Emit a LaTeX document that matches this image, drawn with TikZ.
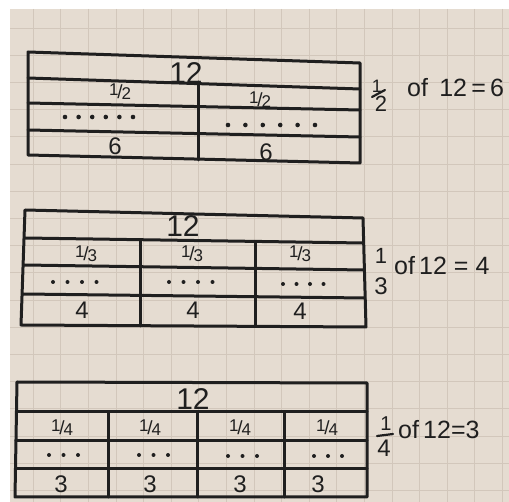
\documentclass[tikz,border=0pt]{standalone}
\usepackage{fontspec}
\setmainfont{Liberation Sans}
\newcommand{\hfr}[2]{\raisebox{0.3em}{\fontsize{17}{17}\selectfont #1}\kern-0.12em{\fontsize{19}{19}\selectfont/}\kern-0.1em\raisebox{-0.1em}{\fontsize{17}{17}\selectfont #2}}
\begin{document}
\begin{tikzpicture}[x=1pt,y=-1pt,
  ink/.style={draw=black!88,line width=3pt,line cap=round,line join=round},
  thin/.style={draw=black!88,line width=2.2pt,line cap=round},
  lbl/.style={inner sep=0pt,text=black!88,font=\fontsize{24}{24}\selectfont},
  big/.style={inner sep=0pt,text=black!88,font=\fontsize{30}{30}\selectfont},
  frc/.style={inner sep=0pt,text=black!88},
  side/.style={inner sep=0pt,text=black!88,font=\fontsize{25}{25}\selectfont,anchor=west},
  dotm/.style={fill=black!88}]
\useasboundingbox (0,0) rectangle (509,502);
\fill[white] (0,0) rectangle (509,502);
\fill[fill={rgb,255:red,229;green,220;blue,209}] (10,9) rectangle (509,502);
\begin{scope}
\clip (10,9) rectangle (509,502);
\foreach \i in {0,...,18} {\draw[line width=0.6pt,draw={rgb,255:red,210;green,199;blue,187}] (33+27.6*\i,9) -- (33+27.6*\i,502);}
\foreach \j in {0,...,17} {\draw[line width=0.6pt,draw={rgb,255:red,210;green,199;blue,187}] (10,28+27.2*\j) -- (509,28+27.2*\j);}
\end{scope}
% ---------- Table 1 ----------
\draw[ink] (28,52) -- (360,63) -- (360,163) -- (28,155) -- cycle;
\draw[ink] (28,78) -- (360,89);
\draw[ink] (28,103) -- (360,110);
\draw[ink] (28,130) -- (360,137);
\draw[ink] (198,82) -- (198,160);
\node[big] (a12) at (186,73) {12};
\node[frc] (ah1) at (120,92) {\hfr{1}{2}};
\node[frc] (ah2) at (260,100) {\hfr{1}{2}};
\foreach \k in {0,...,5} {\fill[dotm] (65+13.6*\k,117) circle (2.3);}
\foreach \k in {0,...,5} {\fill[dotm] (228+17.4*\k,125) circle (2.3);}
\node[lbl] (a6a) at (115,146) {6};
\node[lbl] (a6b) at (266,152) {6};
\node[frc,font=\fontsize{18}{18}\selectfont] (afn) at (377,86) {1};
\draw[thin] (372,97) -- (385,90);
\node[frc,font=\fontsize{22}{22}\selectfont] (afd) at (381,104) {2};
\node[side] (at) at (407,88) {of\hspace{0.45em}12\,=\,6};
% ---------- Table 2 ----------
\draw[ink] (25,210) -- (363,218) -- (366,327) -- (21,325) -- cycle;
\draw[ink] (25,238) -- (363,243);
\draw[ink] (24,265) -- (364,270);
\draw[ink] (23,294) -- (365,298);
\draw[ink] (140,240) -- (140,326);
\draw[ink] (255,242) -- (255,326);
\node[big] (b12) at (183,226) {12};
\node[frc] (bt1) at (86,254) {\hfr{1}{3}};
\node[frc] (bt2) at (192,254) {\hfr{1}{3}};
\node[frc] (bt3) at (300,254) {\hfr{1}{3}};
\foreach \k in {0,...,3} {\fill[dotm] (53+14.5*\k,282) circle (2);}
\foreach \k in {0,...,3} {\fill[dotm] (169+14.5*\k,282) circle (2);}
\foreach \k in {0,...,3} {\fill[dotm] (283+13.5*\k,284) circle (2);}
\node[lbl] (b4a) at (82,310) {4};
\node[lbl] (b4b) at (193,310) {4};
\node[lbl] (b4c) at (300,311) {4};
\node[frc,font=\fontsize{22}{22}\selectfont] (bfn) at (381,256) {1};
\node[frc,font=\fontsize{24}{24}\selectfont] (bfd) at (381,286) {3};
\node[side] (bt) at (394,266) {of\,12 = 4};
% ---------- Table 3 ----------
\draw[ink] (17,382) -- (367,383) -- (367,497) -- (15,497) -- cycle;
\draw[ink] (17,412) -- (367,412);
\draw[ink] (16,441) -- (367,441);
\draw[ink] (16,469) -- (367,469);
\draw[ink] (108,412) -- (108,497);
\draw[ink] (197,412) -- (197,497);
\draw[ink] (284,412) -- (284,497);
\node[big] (c12) at (193,399) {12};
\node[frc] (cq1) at (62,428) {\hfr{1}{4}};
\node[frc] (cq2) at (150,428) {\hfr{1}{4}};
\node[frc] (cq3) at (240,428) {\hfr{1}{4}};
\node[frc] (cq4) at (327,428) {\hfr{1}{4}};
\foreach \k in {0,...,2} {\fill[dotm] (49+14.5*\k,455) circle (2);}
\foreach \k in {0,...,2} {\fill[dotm] (139+14.5*\k,455) circle (2);}
\foreach \k in {0,...,2} {\fill[dotm] (228+14.5*\k,456) circle (2);}
\foreach \k in {0,...,2} {\fill[dotm] (314+14*\k,456) circle (2);}
\node[lbl] (c3a) at (61,484) {3};
\node[lbl] (c3b) at (150,484) {3};
\node[lbl] (c3c) at (240,484) {3};
\node[lbl] (c3d) at (318,484) {3};
\node[frc,font=\fontsize{20}{20}\selectfont] (cfn) at (386,424) {1};
\draw[thin] (377,436) -- (393,434);
\node[frc,font=\fontsize{24}{24}\selectfont] (cfd) at (384,448) {4};
\node[side] (ct) at (398,430) {of\,12=3};
\end{tikzpicture}
\end{document}
